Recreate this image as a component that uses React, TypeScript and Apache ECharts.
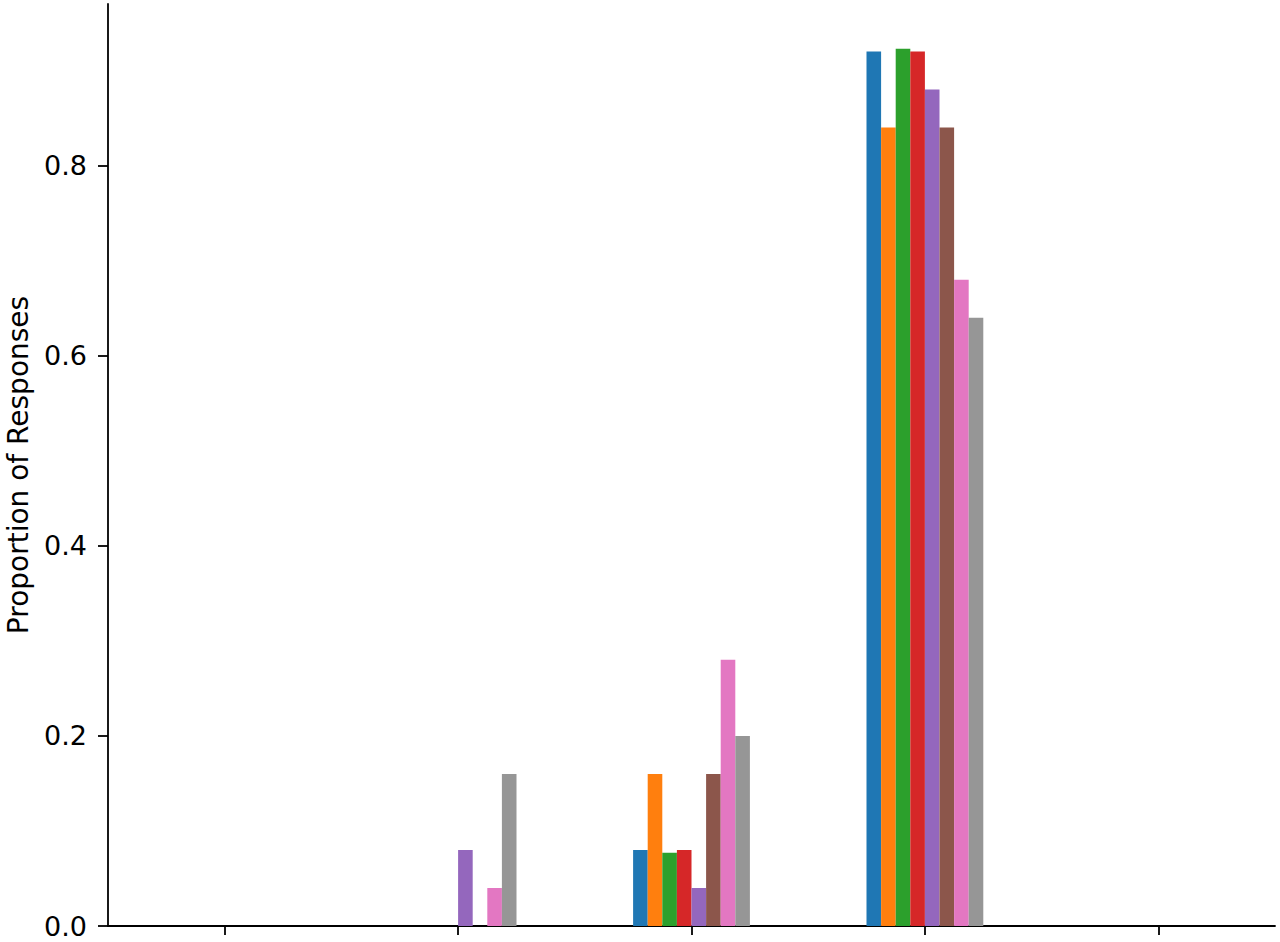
import React, { useEffect, useRef } from "react";
import * as echarts from "echarts";

const categories = ["1", "2", "3", "4", "5"];
const seriesNames = ["S1", "S2", "S3", "S4", "S5", "S6", "S7", "S8"];
const colors = ["#1f77b4", "#ff7f0e", "#2ca02c", "#d62728", "#9467bd", "#8c564b", "#e377c2", "#969696"];
const s1 = [0, 0, 0.08, 0.92, 0];
const s2 = [0, 0, 0.16, 0.84, 0];
const s3 = [0, 0, 0.077, 0.923, 0];
const s4 = [0, 0, 0.08, 0.92, 0];
const s5 = [0, 0.08, 0.04, 0.88, 0];
const s6 = [0, 0, 0.16, 0.84, 0];
const s7 = [0, 0.04, 0.28, 0.68, 0];
const s8 = [0, 0.16, 0.2, 0.64, 0];
const seriesData = [s1, s2, s3, s4, s5, s6, s7, s8];
const yTicks = [0, 0.2, 0.4, 0.6, 0.8];

export default function App() {
  const ref = useRef<HTMLDivElement>(null);
  useEffect(() => {
    const chart = echarts.init(ref.current!, null, { renderer: "svg" });
    chart.setOption({
      animation: false,
      grid: { left: 108, right: 5, top: 4, bottom: 16, containLabel: false, outerBoundsMode: "none" },
      xAxis: {
        type: "category",
        data: categories,
        boundaryGap: true,
        axisLine: { show: true, lineStyle: { color: "#000", width: 1.8 } },
        axisTick: { show: true, alignWithLabel: true, length: 9, lineStyle: { color: "#000", width: 1.8 } },
        axisLabel: { show: false },
        splitLine: { show: false },
      },
      yAxis: {
        type: "value",
        min: 0,
        max: 0.97,
        interval: 0.2,
        name: "Proportion of Responses",
        nameLocation: "middle",
        nameGap: 76,
        nameTextStyle: { fontFamily: "DejaVu Sans", fontSize: 28, lineHeight: 28, color: "#000" },
        axisLine: { show: true, lineStyle: { color: "#000", width: 1.8 } },
        axisTick: { show: true, length: 10, customValues: yTicks, lineStyle: { color: "#000", width: 1.8 } },
        axisLabel: {
          customValues: yTicks,
          margin: 21,
          fontFamily: "DejaVu Sans",
          fontSize: 27,
          color: "#000",
          formatter: (v: number) => v.toFixed(1),
        },
        splitLine: { show: false },
      },
      series: seriesData.map((d, i) => ({
        name: seriesNames[i],
        type: "bar",
        data: d,
        barWidth: 14.6,
        barGap: "0%",
        itemStyle: { color: colors[i] },
      })),
    });
    return () => chart.dispose();
  }, []);
  return <div ref={ref} style={{ width: 1280, height: 942, position: "absolute", left: 0, top: 0 }} />;
}
